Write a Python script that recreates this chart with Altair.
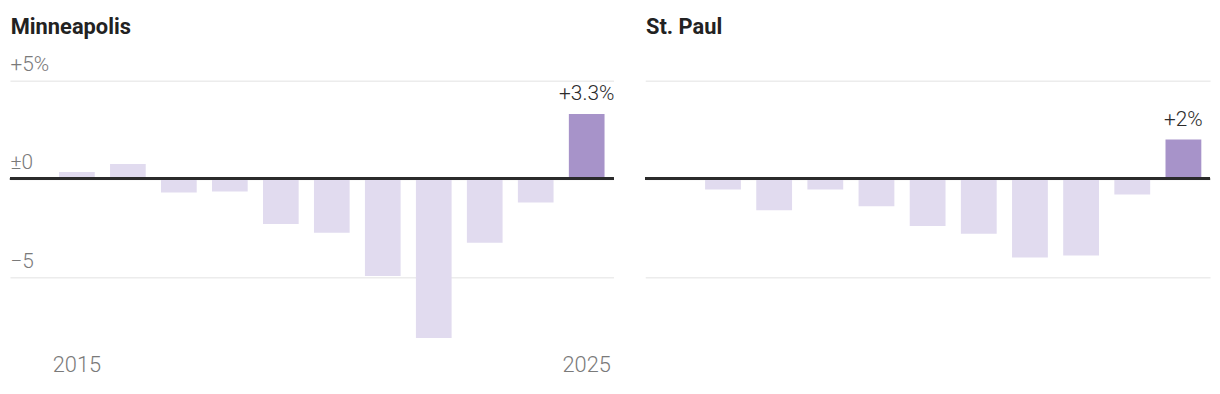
import altair as alt
import pandas as pd

years = list(range(2015, 2026))
minneapolis = [0.35, 0.75, -0.7, -0.65, -2.3, -2.75, -4.95, -8.1, -3.25, -1.2, 3.3]
st_paul = [0.0, -0.55, -1.6, -0.55, -1.4, -2.4, -2.8, -4.0, -3.9, -0.8, 2.0]
last_labels = {"Minneapolis": "+3.3%", "St. Paul": "+2%"}
y_ticks = [5, 0, -5]
x_ticks = [2015, 2025]

FONT = "Roboto"
LIGHT = "#e1dbef"
DARK = "#a793c9"


def frame(city, vals):
    return pd.DataFrame({
        "year": years,
        "value": vals,
        "label": [last_labels[city] if y == years[-1] else "" for y in years],
    })


def panel(city, vals, width, x_scale, show_labels):
    df = frame(city, vals)
    yscale = alt.Scale(domain=[-8.3, 6.4], nice=False, zero=False)
    if show_labels:
        yaxis = alt.Axis(values=y_ticks, grid=True, gridColor="#ececec", gridWidth=1.5,
                         domain=False, ticks=False, tickSize=0, labelPadding=0,
                         labelAlign="left", labelBaseline="alphabetic", labelOffset=-10,
                         labelFont=FONT, labelFontSize=21, labelFontWeight=300,
                         labelColor="#7a7a7a", title=None,
                         labelExpr="datum.value > 0 ? '+' + datum.value + '%' : (datum.value == 0 ? '±0' : '−' + abs(datum.value))")
        xaxis = alt.Axis(values=x_ticks, domain=False, ticks=False, labelAngle=0,
                         labelFont=FONT, labelFontSize=22, labelFontWeight=300,
                         labelColor="#7a7a7a", labelPadding=13, title=None)
    else:
        yaxis = alt.Axis(values=y_ticks, grid=True, gridColor="#ececec", gridWidth=1.5,
                         domain=False, ticks=False, tickSize=0, labels=False,
                         labelPadding=0, title=None)
        xaxis = None

    base = alt.Chart(df)
    bars = base.mark_bar().encode(
        x=alt.X("year:O", scale=x_scale, axis=xaxis),
        y=alt.Y("value:Q", scale=yscale, axis=yaxis),
        y2=alt.datum(0),
        color=alt.condition(alt.datum.year == years[-1], alt.value(DARK), alt.value(LIGHT)),
    )
    zero = base.mark_rule(color="#2b2b2b", strokeWidth=2.5).encode(y=alt.datum(0))
    text = base.transform_filter(alt.datum.label != "").mark_text(
        font=FONT, fontSize=21, fontWeight=300, color="#2b2b2b", dy=-10, baseline="bottom"
    ).encode(
        x=alt.X("year:O", scale=x_scale),
        y=alt.Y("value:Q", scale=yscale),
        text="label:N",
    )
    return alt.layer(bars, zero, text).properties(
        width=width, height=291,
        title=alt.TitleParams(city, anchor="start", font=FONT, fontSize=22,
                              fontWeight="bold", color="#222222", offset=14),
    )


left = panel("Minneapolis", minneapolis, 608,
             alt.Scale(paddingInner=0.3, paddingOuter=0.569, align=0.846), True)
right = panel("St. Paul", st_paul, 569,
              alt.Scale(paddingInner=0.3, paddingOuter=0.17), False)

chart = alt.hconcat(left, right, spacing=28).properties(
    padding={"top": 7, "left": 0, "right": 0, "bottom": 0}
).configure_view(strokeWidth=0).configure_title(dx=2)

chart.save("out.html", embed_options={"renderer": "svg", "actions": False})
